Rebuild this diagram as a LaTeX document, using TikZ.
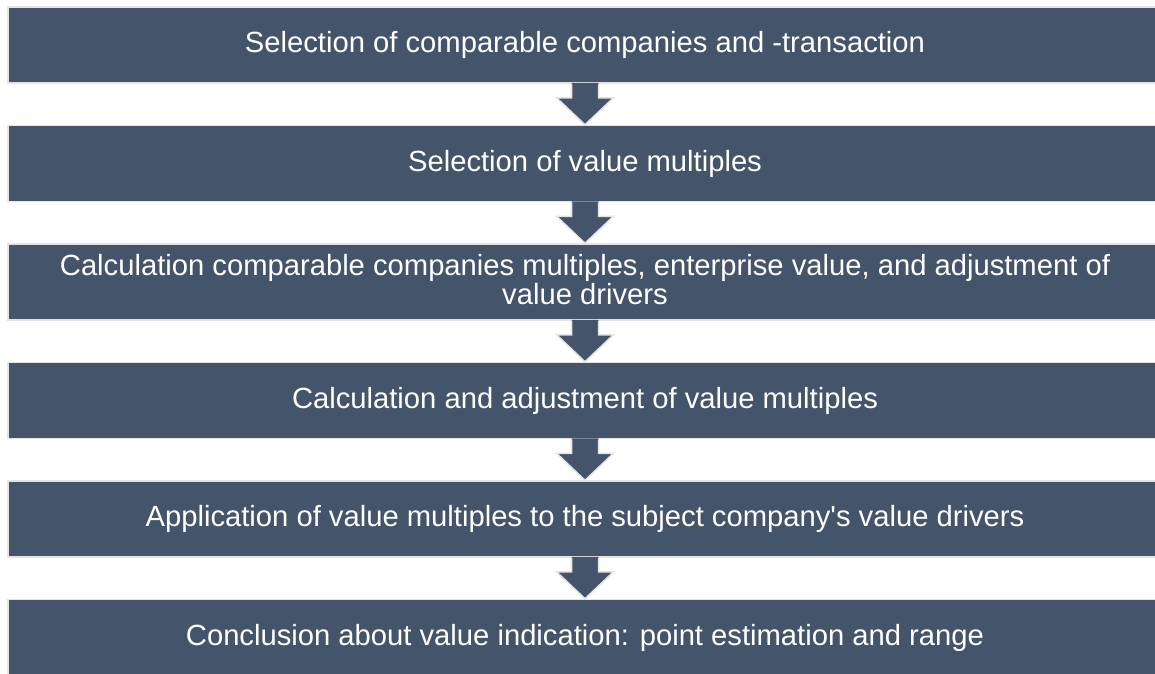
\documentclass[tikz,border=0pt]{standalone}
\usepackage{fontspec}
\newfontfamily\stepfont{Liberation Sans}
\usetikzlibrary{positioning,calc}
\definecolor{stepfill}{HTML}{44546A}
\definecolor{stepedge}{HTML}{E4E4E4}
\tikzstyle{stepbox} = [rectangle, draw=stepedge, line width=1.5pt, fill=stepfill,
text=white, align=center, inner sep=0pt, minimum width=1154pt, minimum height=76pt,
font=\stepfont\fontsize{29.2}{29}\selectfont]
\tikzstyle{flowarrow} = [draw=stepedge, line width=1.5pt, line join=miter]
% block arrow from the bottom of one step to the top of the next
\newcommand{\steparrow}[2]{%
  \fill[stepfill] ($(#1.south)+(-13.5,1)$) -- ($(#1.south)+(-13.5,-14)$) -- ($(#1.south)+(-28.5,-14)$)
    -- (#2.north) -- ($(#1.south)+(28.5,-14)$) -- ($(#1.south)+(13.5,-14)$) -- ($(#1.south)+(13.5,1)$) -- cycle;
  \draw[flowarrow] ($(#1.south)+(-13.5,0)$) -- ($(#1.south)+(-13.5,-14)$) -- ($(#1.south)+(-28.5,-14)$)
    -- (#2.north) -- ($(#1.south)+(28.5,-14)$) -- ($(#1.south)+(13.5,-14)$) -- ($(#1.south)+(13.5,0)$);}

\begin{document}
\begin{tikzpicture}[x=1pt, y=1pt, node distance = 118.5pt]
				\useasboundingbox (0,0) rectangle (1155,-673);
				% Place steps
				\node (select) [stepbox] at (585,-45) {Selection of comparable companies and -transaction};
				\node (multiples) [stepbox, below of=select] {Selection of value multiples};
				\node (calccomp) [stepbox, below of=multiples] {Calculation comparable companies multiples, enterprise value, and adjustment of\\value drivers\vspace{4pt}};
				\node (adjust) [stepbox, below of=calccomp] {Calculation and adjustment of value multiples};
				\node (apply) [stepbox, below of=adjust] {Application of value multiples to the subject company's value drivers};
				\node (conclude) [stepbox, below of=apply] {Conclusion about value indication: point estimation and range};
				
				% Arrows between steps
				\steparrow{select}{multiples}
				\steparrow{multiples}{calccomp}
				\steparrow{calccomp}{adjust}
				\steparrow{adjust}{apply}
				\steparrow{apply}{conclude}
			\end{tikzpicture}
\end{document}
